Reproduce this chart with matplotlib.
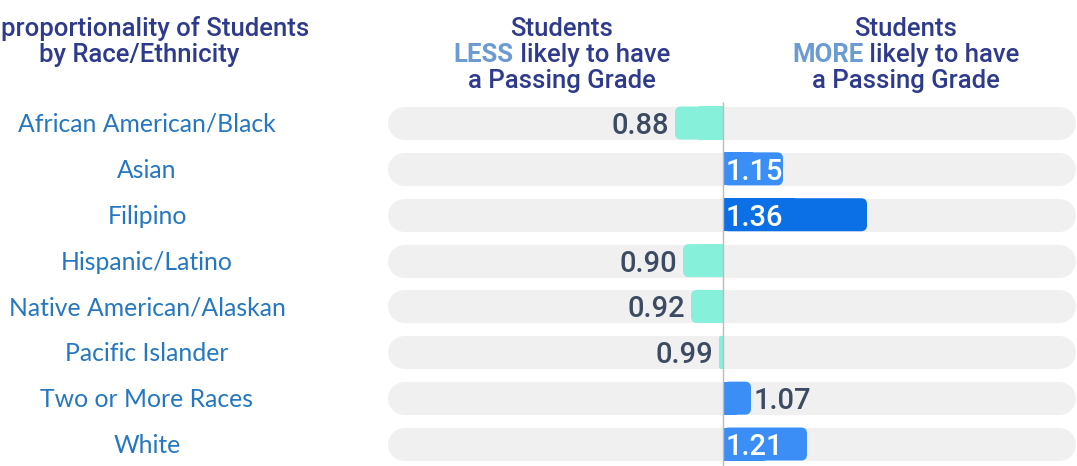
import matplotlib
matplotlib.use("Agg")
import matplotlib.pyplot as plt
from matplotlib.patches import FancyBboxPatch

categories = ["African American/Black", "Asian", "Filipino", "Hispanic/Latino",
              "Native American/Alaskan", "Pacific Islander", "Two or More Races", "White"]
ratios = [0.88, 1.15, 1.36, 0.90, 0.92, 0.99, 1.07, 1.21]

W, H = 1077, 466
TEAL = "#86F0DB"
BLUE = "#3A8EF6"
DARK_BLUE = "#0B6FE6"
BG = "#F0F0F0"
NAVY = "#2E3A8C"
LIGHT = "#6C9BD2"
CAT_COLOR = "#2477C0"
NUM_COLOR = "#3C4A62"

px_per_unit = 400.0
center_px = 723
row0_px, row_step = 123, 45.86

fig = plt.figure(figsize=(W / 100, H / 100), dpi=100)
ax = fig.add_axes([0, 0, 1, 1])
ax.set_xlim(1 - center_px / px_per_unit, 1 + (W - center_px) / px_per_unit)
ax.set_ylim((H - row0_px) / row_step, -row0_px / row_step)
ax.axis("off")

bar_h = 0.72
bg_lo, bg_hi = 0.2013, 1.8388
lw_pt = bar_h * row_step * 72 / 100
radius = 6 / px_per_unit          # corner rounding in x units
aspect = px_per_unit / row_step   # y units per x unit ratio for rounding

num_font = dict(fontsize=21, family="Roboto", weight="medium", va="baseline", zorder=5)

for i, (cat, v) in enumerate(zip(categories, ratios)):
    # grey track with round caps
    ax.plot([bg_lo, bg_hi], [i, i], color=BG, lw=lw_pt, solid_capstyle="round", zorder=1)
    if v < 1:
        col = TEAL
    elif v > 1.3:
        col = DARK_BLUE
    else:
        col = BLUE
    lo, hi = min(v, 1), max(v, 1)
    w = hi - lo
    r_ = min(radius, w / 2)
    ax.add_patch(FancyBboxPatch((lo, i - bar_h / 2), w, bar_h,
                                boxstyle=f"round,pad=0,rounding_size={r_}",
                                mutation_aspect=aspect, fc=col, ec="none", zorder=2))
    # square off the inner (centre-line) side
    ax.barh(i, (v - 1) / 2, left=1, height=bar_h, color=col, zorder=3)

    if v < 1:
        ax.annotate(f"{v:.2f}", (v, i), xytext=(-4, -7.9), textcoords="offset points",
                    ha="right", color=NUM_COLOR, **num_font)
    elif v - 1 > 0.1:
        ax.annotate(f"{v:.2f}", (1, i), xytext=(1.5, -7.9), textcoords="offset points",
                    ha="left", color="white", **num_font)
    else:
        ax.annotate(f"{v:.2f}", (v, i), xytext=(2, -7.9), textcoords="offset points",
                    ha="left", color=NUM_COLOR, **num_font)
    fig.text(147 / W, 1 - (row0_px + i * row_step + 9) / H, cat, ha="center", va="baseline",
             fontsize=17.8, color=CAT_COLOR, family="Lato")

ax.vlines(1, -0.45, len(categories) - 0.45, color="#BBBBBB", lw=1, zorder=4)

# headers
hdr = dict(fontsize=18.5, color=NAVY, family="Roboto", weight="medium", va="baseline")
fig.text(1 / W, 1 - 36 / H, "proportionality of Students", ha="left", **hdr)
fig.text(139 / W, 1 - 62 / H, "by Race/Ethnicity", ha="center", **hdr)

fig.canvas.draw()
r = fig.canvas.get_renderer()


def two_tone(cx, y, first, rest):
    a = fig.text(0, 0, first, **{**hdr, "color": LIGHT, "weight": "bold"})
    b = fig.text(0, 0, rest, **hdr)
    wa = a.get_window_extent(r).width
    wb = b.get_window_extent(r).width
    x0 = cx - (wa + wb) / 2
    a.set_position((x0 / W, y))
    b.set_position(((x0 + wa) / W, y))


for cx, word in [(562, "LESS"), (906, "MORE")]:
    fig.text(cx / W, 1 - 36 / H, "Students", ha="center", **hdr)
    two_tone(cx, 1 - 62 / H, word, " likely to have")
    fig.text(cx / W, 1 - 88 / H, "a Passing Grade", ha="center", **hdr)

fig.savefig("out.png", dpi=100)
